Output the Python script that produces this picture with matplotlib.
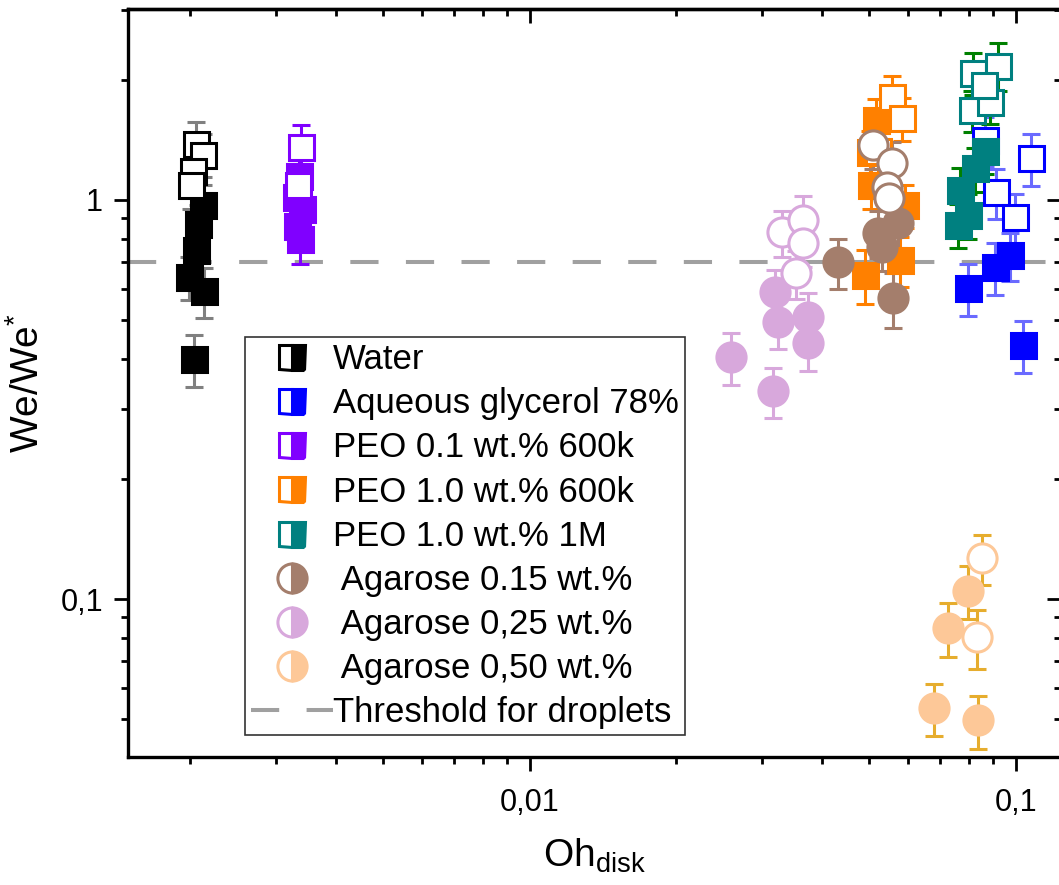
import matplotlib
matplotlib.use("Agg")
import matplotlib.pyplot as plt
from matplotlib.lines import Line2D
from matplotlib.ticker import FixedLocator, FixedFormatter, NullFormatter, LogLocator

plt.rcParams['font.family'] = ['Liberation Sans', 'DejaVu Sans']
plt.rcParams['mathtext.fontset'] = 'custom'
plt.rcParams['mathtext.rm'] = 'Liberation Sans'
plt.rcParams['mathtext.it'] = 'Liberation Sans'

# Data: (Oh_disk, We/We*, error), filled and open symbols
water_x = [0.00213, 0.00208, 0.00206, 0.00199, 0.00214, 0.00204]
water_y = [0.97, 0.87, 0.75, 0.64, 0.59, 0.40]
water_e = [0.12, 0.10, 0.09, 0.08, 0.085, 0.06]
water_xo = [0.00206, 0.00213, 0.00203, 0.00201]
water_yo = [1.38, 1.30, 1.18, 1.09]
water_eo = [0.19, 0.16, 0.15, 0.14]

gly_x = [0.0799, 0.0907, 0.0974, 0.1035]
gly_y = [0.602, 0.679, 0.728, 0.433]
gly_e = [0.09, 0.10, 0.10, 0.065]
gly_xo = [0.0866, 0.0913, 0.0998, 0.1076]
gly_yo = [1.41, 1.047, 0.906, 1.274]
gly_eo = [0.20, 0.15, 0.13, 0.19]

peo01_x = [0.00335, 0.00330, 0.00340, 0.00332, 0.00337]
peo01_y = [1.15, 1.02, 0.95, 0.86, 0.80]
peo01_e = [0.15, 0.13, 0.12, 0.11, 0.11]
peo01_xo = [0.00338, 0.00333]
peo01_yo = [1.36, 1.09]
peo01_eo = [0.18, 0.14]

peo600_x = [0.0515, 0.0501, 0.0505, 0.0591, 0.0578, 0.0490]
peo600_y = [1.59, 1.32, 1.09, 0.971, 0.707, 0.649]
peo600_e = [0.20, 0.17, 0.14, 0.12, 0.10, 0.10]
peo600_xo = [0.0556, 0.0583, 0.0520]
peo600_yo = [1.81, 1.605, 1.33]
peo600_eo = [0.24, 0.20, 0.17]

peo1m_x = [0.0865, 0.0825, 0.0767, 0.0799, 0.0761]
peo1m_y = [1.33, 1.20, 1.06, 0.917, 0.866]
peo1m_e = [0.17, 0.15, 0.14, 0.12, 0.11]
peo1m_xo = [0.0817, 0.0920, 0.0812, 0.0884, 0.0860]
peo1m_yo = [2.08, 2.17, 1.68, 1.76, 1.94]
peo1m_eo = [0.25, 0.30, 0.20, 0.21, 0.23]

ag15_x = [0.0431, 0.0572, 0.0520, 0.0532, 0.0559]
ag15_y = [0.70, 0.876, 0.827, 0.763, 0.568]
ag15_e = [0.10, 0.12, 0.11, 0.10, 0.09]
ag15_xo = [0.0508, 0.0556, 0.0544, 0.0548]
ag15_yo = [1.374, 1.238, 1.078, 1.01]
ag15_eo = [0.18, 0.16, 0.14, 0.13]

ag25_x = [0.0259, 0.0317, 0.0320, 0.0325, 0.0374, 0.0374]
ag25_y = [0.404, 0.332, 0.588, 0.494, 0.509, 0.438]
ag25_e = [0.06, 0.047, 0.08, 0.07, 0.075, 0.065]
ag25_xo = [0.0331, 0.0365, 0.0365, 0.0354]
ag25_yo = [0.831, 0.891, 0.78, 0.656]
ag25_eo = [0.11, 0.13, 0.10, 0.09]

ag50_x = [0.0799, 0.0727, 0.0679, 0.0837]
ag50_y = [0.105, 0.0846, 0.0533, 0.0497]
ag50_e = [0.016, 0.013, 0.0079, 0.0076]
ag50_xo = [0.0853, 0.0833]
ag50_yo = [0.1266, 0.0803]
ag50_eo = [0.018, 0.0134]

threshold = 0.7

series = [
    ("Water", 's', 'black', '#808080',
     water_x, water_y, water_e, water_xo, water_yo, water_eo),
    ("Aqueous glycerol 78%", 's', '#0000ff', '#6a6aff',
     gly_x, gly_y, gly_e, gly_xo, gly_yo, gly_eo),
    ("PEO 0.1 wt.% 600k", 's', '#8000ff', '#8000ff',
     peo01_x, peo01_y, peo01_e, peo01_xo, peo01_yo, peo01_eo),
    ("PEO 1.0 wt.% 600k", 's', '#ff8000', '#ff8000',
     peo600_x, peo600_y, peo600_e, peo600_xo, peo600_yo, peo600_eo),
    ("PEO 1.0 wt.% 1M", 's', '#008080', '#008000',
     peo1m_x, peo1m_y, peo1m_e, peo1m_xo, peo1m_yo, peo1m_eo),
    (" Agarose 0.15 wt.%", 'o', '#a47e6c', '#a47e6c',
     ag15_x, ag15_y, ag15_e, ag15_xo, ag15_yo, ag15_eo),
    (" Agarose 0,25 wt.%", 'o', '#d8a8dc', '#d8a8dc',
     ag25_x, ag25_y, ag25_e, ag25_xo, ag25_yo, ag25_eo),
    (" Agarose 0,50 wt.%", 'o', '#fdc898', '#e6ad2e',
     ag50_x, ag50_y, ag50_e, ag50_xo, ag50_yo, ag50_eo),
]

W, H = 1059, 885
fig = plt.figure(figsize=(W / 100, H / 100), dpi=100)
ax = fig.add_axes([128 / W, 1 - 757 / H, (1061 - 128) / W, (757 - 9) / H])
ax.set_xscale('log')
ax.set_yscale('log')

ax.axhline(threshold, color='#a0a0a0', lw=2.9, dashes=(7, 6.8), zorder=1)

handles = []
for label, mk, col, ecol, xf, yf, ef, xo, yo, eo in series:
    ms = 18 if mk == 's' else 21
    ax.errorbar(xf, yf, yerr=ef, fmt=mk, ms=ms, mfc=col, mec=col, mew=2.2,
                ecolor=ecol, elinewidth=2.2, capsize=6.5, capthick=2.2, zorder=3)
    ax.errorbar(xo, yo, yerr=eo, fmt=mk, ms=ms, mfc='white', mec=col, mew=2.2,
                ecolor=ecol, elinewidth=2.2, capsize=6.5, capthick=2.2, zorder=3)
    handles.append(Line2D([], [], marker=mk, ls='none', ms=ms, color=col,
                          mec=col, mew=2.2, fillstyle='right',
                          markerfacecoloralt='white', label=label))
handles.append(Line2D([], [], color='#a0a0a0', lw=2.9, dashes=(7, 6.8),
                      label="Threshold for droplets"))

ax.set_xlim(0.00149, 0.124)
ax.set_ylim(0.0402, 3.01)

# comma decimal tick labels
ax.xaxis.set_major_locator(FixedLocator([0.01, 0.1]))
ax.xaxis.set_major_formatter(FixedFormatter(["0,01", "0,1"]))
ax.yaxis.set_major_locator(FixedLocator([0.1, 1]))
ax.yaxis.set_major_formatter(FixedFormatter(["0,1", "1"]))
ax.xaxis.set_minor_locator(LogLocator(subs=range(2, 10)))
ax.yaxis.set_minor_locator(LogLocator(subs=range(2, 10)))
ax.xaxis.set_minor_formatter(NullFormatter())
ax.yaxis.set_minor_formatter(NullFormatter())
ax.tick_params(which='both', direction='out', width=2, labelsize=22)
ax.tick_params(axis='x', pad=12)
ax.tick_params(axis='y', pad=8)
ax.tick_params(which='major', length=10)
ax.tick_params(which='minor', length=5)
for sp in ax.spines.values():
    sp.set_linewidth(2.4)

# mirrored ticks on top and right point into the same direction
secx = ax.secondary_xaxis('top')
secx.tick_params(which='both', direction='in', width=2, labeltop=False)
secx.tick_params(which='major', length=10)
secx.tick_params(which='minor', length=5)
secx.xaxis.set_minor_formatter(NullFormatter())
secx.spines['top'].set_linewidth(2.4)
secy = ax.secondary_yaxis('right')
secy.tick_params(which='both', direction='in', width=2, labelright=False)
secy.tick_params(which='major', length=10)
secy.tick_params(which='minor', length=5)
secy.yaxis.set_minor_formatter(NullFormatter())
secy.spines['right'].set_linewidth(2.4)

ax.set_xlabel(r'Oh$_{\mathrm{disk}}$', fontsize=28, labelpad=14)
ax.set_ylabel(r'We/We$^{*}$', fontsize=28, labelpad=10)

leg = fig.legend(handles=handles, loc='upper left',
                 bbox_to_anchor=(245 / W, 1 - 337 / H), bbox_transform=fig.transFigure,
                 fontsize=25, frameon=True, fancybox=False, borderaxespad=0,
                 borderpad=0.18, labelspacing=0.32, handlelength=2.36,
                 handletextpad=0.0, numpoints=1)
leg.get_frame().set_edgecolor('black')
leg.get_frame().set_linewidth(1.2)

fig.savefig("out.png", dpi=100)
